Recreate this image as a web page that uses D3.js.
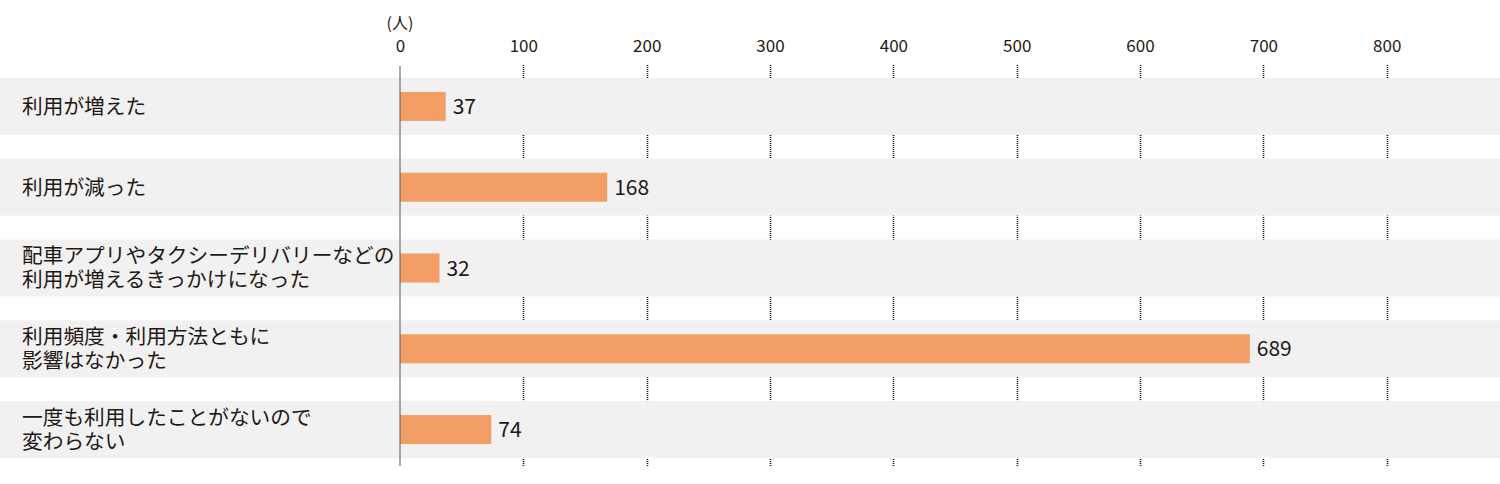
<!DOCTYPE html>
<html><head><meta charset="utf-8">
<script src="https://cdn.jsdelivr.net/npm/d3@7"></script>
<style>body{margin:0;background:#fff}svg{display:block}text{font-family:"Noto Sans CJK JP","Noto Sans",sans-serif;fill:#231815}</style>
</head><body><svg id="c" width="1500" height="484"></svg>
<script>
const categories = [
  ["利用が増えた"],
  ["利用が減った"],
  ["配車アプリやタクシーデリバリーなどの","利用が増えるきっかけになった"],
  ["利用頻度・利用方法ともに","影響はなかった"],
  ["一度も利用したことがないので","変わらない"]
];
const values = [37, 168, 32, 689, 74];
const tickValues = [0,100,200,300,400,500,600,700,800];
const unitLabel = "(人)";

const svg = d3.select("#c");
const x = d3.scaleLinear().domain([0,800]).range([400,1386.7]);
const y = d3.scaleBand().domain(d3.range(categories.length)).range([78,458]).paddingInner(0.296).paddingOuter(0);

// gridlines
svg.append("g").selectAll("line").data(tickValues.filter(d=>d>0)).join("line")
  .attr("x1",d=>Math.round(x(d))+0.5).attr("x2",d=>Math.round(x(d))+0.5).attr("y1",65).attr("y2",466)
  .attr("stroke","#111").attr("stroke-width",1.6).attr("stroke-dasharray","1,1");

// bands
svg.append("g").selectAll("rect").data(categories).join("rect")
  .attr("x",0).attr("width",1500).attr("y",(d,i)=>y(i)).attr("height",y.bandwidth())
  .attr("fill","#f1f1f1");

// bars
const bh = 29;
svg.append("g").selectAll("rect").data(values).join("rect")
  .attr("x",x(0)).attr("width",d=>x(d)-x(0))
  .attr("y",(d,i)=>y(i)+y.bandwidth()/2-bh/2).attr("height",bh)
  .attr("fill","#f29d65");

// value labels
svg.append("g").selectAll("text").data(values).join("text")
  .attr("x",d=>x(d)+7).attr("y",(d,i)=>y(i)+y.bandwidth()/2)
  .attr("dy","0.36em").attr("font-size",21).text(d=>d);

// axis line
svg.append("line").attr("x1",x(0)).attr("x2",x(0)).attr("y1",66).attr("y2",466)
  .attr("stroke","#555").attr("stroke-width",1);

// top axis tick labels
const axis = d3.axisTop(x).tickValues(tickValues).tickSize(0).tickPadding(0);
const ag = svg.append("g").attr("transform","translate(0,52)").call(axis);
ag.select(".domain").remove();
ag.selectAll("text").attr("font-size",17).attr("font-family",'"Noto Sans CJK JP","Noto Sans",sans-serif').attr("fill","#231815").attr("dy",0);

svg.append("text").attr("x",x(0)).attr("y",29).attr("text-anchor","middle").attr("font-size",16).text(unitLabel);

// category labels (multi-line via tspans)
const lg = svg.append("g");
categories.forEach((lines,i)=>{
  const cy = y(i)+y.bandwidth()/2;
  const n = lines.length, lh = 24;
  const t = lg.append("text").attr("font-size",20.7);
  lines.forEach((s,j)=>{
    t.append("tspan").attr("x",22).attr("y",cy+(j-(n-1)/2)*lh).attr("dy","0.36em").text(s);
  });
});
</script></body></html>
